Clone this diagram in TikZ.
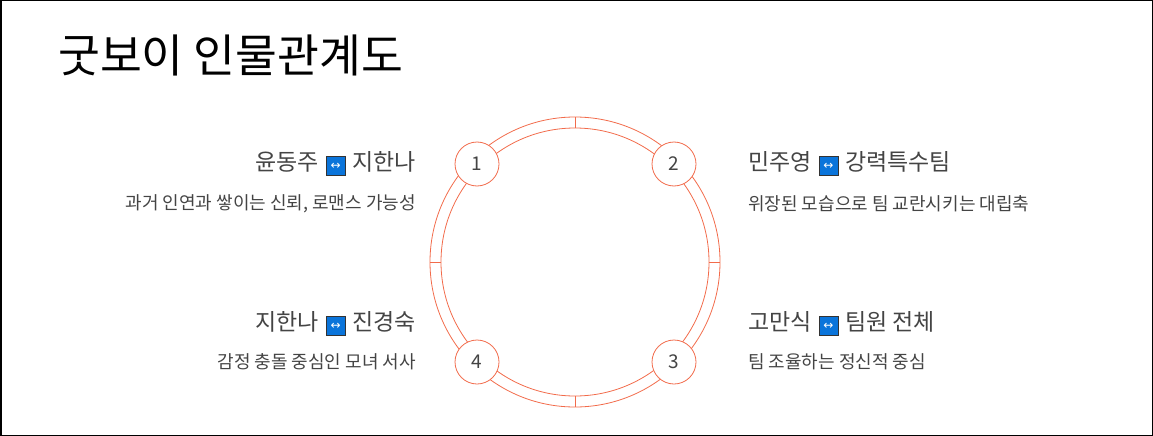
\documentclass[tikz,border=0pt]{standalone}
\usepackage{fontspec}
\usetikzlibrary{calc}
\setmainfont{Noto Sans CJK KR}
\newfontfamily\symf{DejaVu Sans}
\definecolor{ring}{HTML}{F26B4B}
\definecolor{tx}{HTML}{444444}
\definecolor{ib}{HTML}{0A74DA}
\newcommand{\lr}{\hspace{0.3em}\tikz[baseline=-4.5pt]\node[fill=ib,draw=black!80,line width=0.7pt,minimum size=19pt,inner sep=0pt,text=white]{\symf\fontsize{12}{12}\selectfont ↔};\hspace{0.3em}}
\tikzset{num/.style={circle,draw=ring,fill=white,line width=0.8pt,minimum size=44pt,inner sep=0pt,text=tx,font=\fontsize{19}{19}\selectfont},
head/.style={text=tx,font=\fontsize{23}{26}\selectfont,inner sep=0pt},
desc/.style={text=tx,font=\fontsize{18}{20}\selectfont,inner sep=0pt}}
\begin{document}
\begin{tikzpicture}[x=1pt,y=-1pt]
\draw[line width=1.5pt] (0.75,0.75) rectangle (1152.25,435.25);
\useasboundingbox (0,0) rectangle (1153,436);
\node[anchor=west,inner sep=0,font=\fontsize{45.5}{50}\selectfont] (title) at (58,55) {굿보이 인물관계도};
\coordinate (c) at (575,262);
\draw[ring,line width=0.8pt] (c) circle (145);
\draw[ring,line width=0.8pt] (c) circle (134);
\foreach \a in {90,0,180,270}{
 \draw[ring,line width=0.8pt] ($(c)+(\a:134)$) -- ($(c)+(\a:145)$);}
\node[num] (n1) at (477,164) {1};
\node[num] (n2) at (674,164) {2};
\node[num] (n3) at (674,362) {3};
\node[num] (n4) at (477,362) {4};
\node[head,anchor=east] (h1) at (416,164) {윤동주\lr 지한나};
\node[desc,anchor=east] (d1) at (416,204) {과거 인연과 쌓이는 신뢰, 로맨스 가능성};
\node[head,anchor=west] (h2) at (748,164) {민주영\lr 강력특수팀};
\node[desc,anchor=west] (d2) at (748,204) {위장된 모습으로 팀 교란시키는 대립축};
\node[head,anchor=west] (h3) at (748,324) {고만식\lr 팀원 전체};
\node[desc,anchor=west] (d3) at (748,362) {팀 조율하는 정신적 중심};
\node[head,anchor=east] (h4) at (416,324) {지한나\lr 진경숙};
\node[desc,anchor=east] (d4) at (416,362) {감정 충돌 중심인 모녀 서사};
\end{tikzpicture}
\end{document}
